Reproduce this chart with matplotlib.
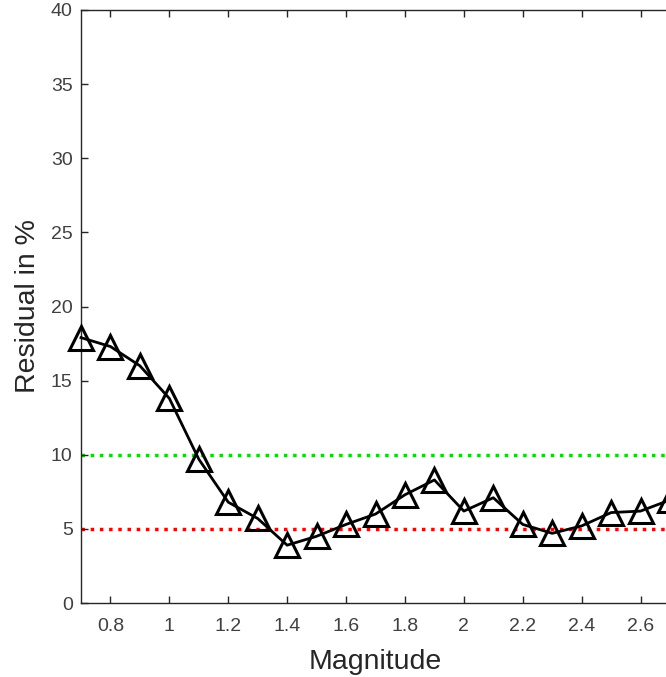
import matplotlib.pyplot as plt

plt.rcParams['font.family'] = ['Liberation Sans', 'DejaVu Sans']

# magnitude vs residual
mag = [0.7, 0.8, 0.9, 1.0, 1.1, 1.2, 1.3, 1.4, 1.5, 1.6, 1.7, 1.8, 1.9,
       2.0, 2.1, 2.2, 2.3, 2.4, 2.5, 2.6, 2.7]
resid = [17.9, 17.3, 16.0, 13.8, 9.7, 6.8, 5.7, 3.9, 4.5, 5.3, 6.0, 7.3, 8.3,
         6.2, 7.1, 5.3, 4.7, 5.2, 6.1, 6.2, 6.95]
lim_green = 10
lim_red = 5
xticks = [0.8, 1.0, 1.2, 1.4, 1.6, 1.8, 2.0, 2.2, 2.4, 2.6]
xticklabels = ['0.8', '1', '1.2', '1.4', '1.6', '1.8', '2', '2.2', '2.4', '2.6']
yticks = [0, 5, 10, 15, 20, 25, 30, 35, 40]

fig = plt.figure(figsize=(6.66, 6.77), dpi=100)
W, H = 666, 677
# axes box runs just past the right edge of the picture (cropped figure)
x0, x1 = 81, 670
y0, y1 = 603, 10
ax = fig.add_axes([x0 / W, (H - y0) / H, (x1 - x0) / W, (y0 - y1) / H])

ax.axhline(lim_green, color='#00e000', linestyle=':', linewidth=2.5, zorder=1)
ax.axhline(lim_red, color='#ff0000', linestyle=':', linewidth=2.5, zorder=1)
ax.plot(mag, resid, color='black', linewidth=2, marker='^', markersize=17,
        markerfacecolor='none', markeredgewidth=2.2, zorder=3, clip_on=False)

ax.set_xlim(0.7, 2.7)
ax.set_ylim(0, 40)
ax.set_xticks(xticks)
ax.set_xticklabels(xticklabels)
ax.set_yticks(yticks)
ax.tick_params(direction='in', length=5, width=1, colors='#262626',
               labelcolor='#404040', labelsize=14, top=True, right=False)
ax.tick_params(axis='x', pad=11)
ax.tick_params(axis='y', pad=6)
for s in ax.spines.values():
    s.set_color('#262626')
    s.set_linewidth(1)

ax.set_xlabel('Magnitude', fontsize=20.5, color='#262626', labelpad=10)
ax.set_ylabel('Residual in %', fontsize=20.5, color='#262626', labelpad=7)

fig.savefig('out.png', dpi=100)
